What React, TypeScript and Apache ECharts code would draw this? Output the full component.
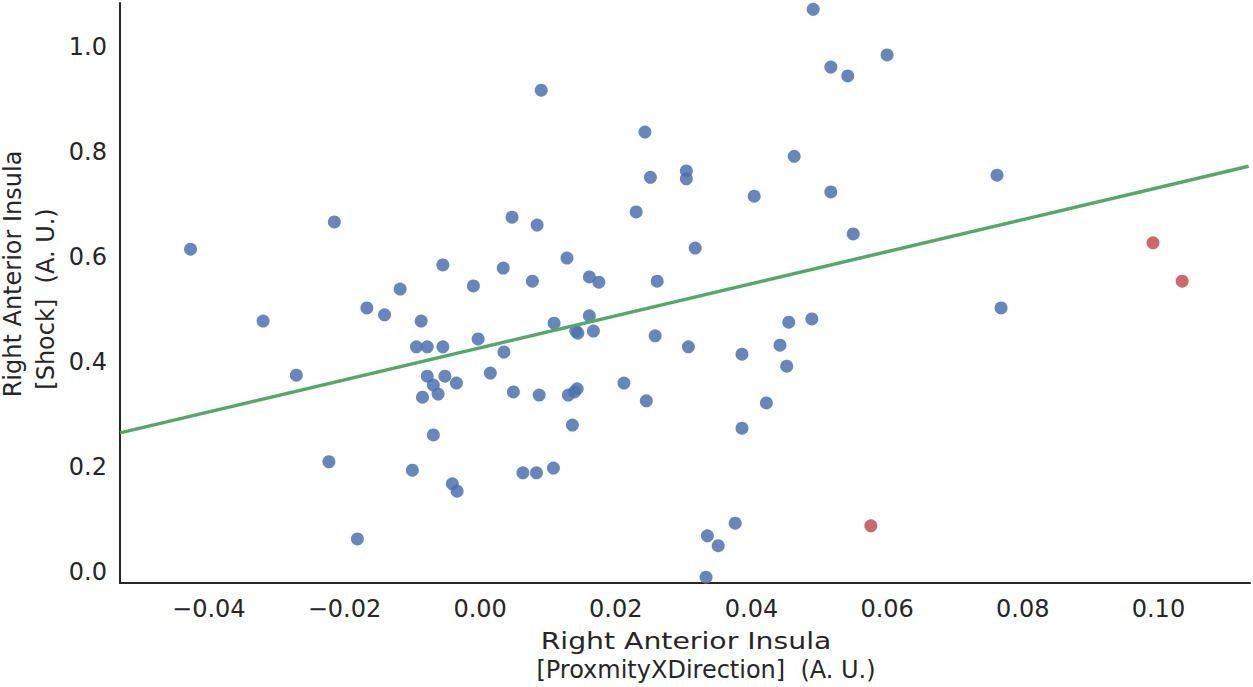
import React, { useEffect, useRef } from "react";
import * as echarts from "echarts";

// Blue points (kept observations)
const blueX: number[] = [
  -0.0427, -0.032, -0.0271, -0.0223, -0.0181, -0.0215, -0.0167, -0.0141, -0.0118, -0.01,
  -0.0094, -0.0078, -0.0055, -0.0087, -0.0055, -0.001, 0.0047, 0.0084, 0.0034, 0.0077,
  0.0128, 0.0161, 0.0175, 0.023, -0.0003, 0.0035, 0.0109, 0.0161, 0.0141, 0.0144,
  0.0167, -0.0078, -0.0069, -0.0052, -0.0035, -0.0085, -0.0062, 0.0015, 0.0049, 0.0087,
  0.013, 0.0139, 0.0143, 0.0212, 0.0136, -0.0069, -0.0041, -0.0034, 0.0063, 0.0083,
  0.0108, 0.0258, 0.0307, 0.0245, 0.0386, 0.0455, 0.0489, 0.0442, 0.0452, 0.0422,
  0.0386, 0.0376, 0.0335, 0.0351, 0.0333, 0.0243, 0.0251, 0.0304, 0.0304, 0.0317,
  0.0261, 0.0463, 0.0404, 0.0517, 0.055, 0.0491, 0.0517, 0.0542, 0.06, 0.0762,
  0.0768, 0.009,
];
const blueY: number[] = [
  0.615, 0.478, 0.375, 0.21, 0.063, 0.667, 0.503, 0.49, 0.539, 0.194,
  0.429, 0.429, 0.429, 0.478, 0.585, 0.545, 0.676, 0.661, 0.579, 0.554,
  0.598, 0.562, 0.552, 0.686, 0.444, 0.419, 0.474, 0.488, 0.459, 0.455,
  0.459, 0.373, 0.356, 0.373, 0.36, 0.333, 0.339, 0.379, 0.343, 0.337,
  0.337, 0.343, 0.349, 0.36, 0.28, 0.261, 0.168, 0.154, 0.189, 0.189,
  0.198, 0.45, 0.429, 0.326, 0.415, 0.476, 0.482, 0.432, 0.392, 0.322,
  0.274, 0.093, 0.069, 0.05, -0.01, 0.838, 0.752, 0.764, 0.749, 0.617,
  0.554, 0.792, 0.716, 0.724, 0.644, 1.072, 0.962, 0.945, 0.985, 0.756,
  0.503, 0.918,
];

// Red points (outliers)
const redX: number[] = [0.0576, 0.0992, 0.1035];
const redY: number[] = [0.088, 0.627, 0.554];

// Fitted regression line end points
const fitX: number[] = [-0.0531, 0.1133];
const fitY: number[] = [0.265, 0.773];

// Axis ticks
const xTicks: number[] = [-0.04, -0.02, 0.0, 0.02, 0.04, 0.06, 0.08, 0.1];
const yTicks: number[] = [0.0, 0.2, 0.4, 0.6, 0.8, 1.0];

const xTitleLine1 = "Right Anterior Insula";
const xTitleLine2 = "[ProxmityXDirection]  (A. U.)";
const yTitleLine1 = "Right Anterior Insula";
const yTitleLine2 = "[Shock]  (A. U.)";

export default function App() {
  const ref = useRef<HTMLDivElement>(null);

  useEffect(() => {
    document.body.style.margin = "0";
    if (!ref.current) return;
    const chart = echarts.init(ref.current, undefined, { renderer: "svg" });
    const font = "DejaVu Sans";
    const textColor = "#262626";

    const titleText = (text: string, x: number, y: number, size: number, rotation = 0, scaleX = 1) => ({
      type: "text",
      x,
      y,
      rotation,
      scaleX,
      style: {
        text,
        fill: textColor,
        font: `${size}px "${font}"`,
        align: "center",
        verticalAlign: "middle",
      },
    });

    chart.setOption({
      animation: false,
      backgroundColor: "#ffffff",
      grid: { left: 120, right: 3, top: 3, bottom: 104 },
      xAxis: {
        type: "value",
        min: -0.0531,
        max: 0.1135,
        splitLine: { show: false },
        axisLine: { show: true, onZero: false, lineStyle: { color: "#262626", width: 2 } },
        axisTick: { show: false },
        axisLabel: {
          customValues: xTicks,
          margin: 14,
          color: textColor,
          fontFamily: font,
          fontSize: 24,
          formatter: (v: number) => {
            const s = Math.abs(v).toFixed(2);
            return v < -1e-9 ? "\u2212" + s : s;
          },
        },
      },
      yAxis: {
        type: "value",
        min: -0.021,
        max: 1.084,
        splitLine: { show: false },
        axisLine: { show: true, onZero: false, lineStyle: { color: "#262626", width: 2 } },
        axisTick: { show: false },
        axisLabel: {
          customValues: yTicks,
          margin: 13,
          color: textColor,
          fontFamily: font,
          fontSize: 24,
          formatter: (v: number) => v.toFixed(1),
        },
      },
      graphic: [
        titleText(xTitleLine1, 686, 641, 23, 0, 1.23),
        titleText(xTitleLine2, 706, 670, 24),
        titleText(yTitleLine1, 13, 274, 24, Math.PI / 2),
        titleText(yTitleLine2, 46, 299, 24, Math.PI / 2),
      ],
      series: [
        {
          type: "scatter",
          data: blueX.map((x, i) => [x, blueY[i]]),
          symbolSize: 13,
          itemStyle: { color: "#4C72B0", opacity: 0.85 },
          z: 2,
        },
        {
          type: "line",
          data: fitX.map((x, i) => [x, fitY[i]]),
          showSymbol: false,
          lineStyle: { color: "#55A868", width: 3.5 },
          z: 3,
        },
        {
          type: "scatter",
          data: redX.map((x, i) => [x, redY[i]]),
          symbolSize: 13,
          itemStyle: { color: "#C44E52", opacity: 0.85 },
          z: 4,
        },
      ],
    });

    return () => chart.dispose();
  }, []);

  return (
    <div
      ref={ref}
      style={{ position: "fixed", left: 0, top: 0, width: 1253, height: 687 }}
    />
  );
}
